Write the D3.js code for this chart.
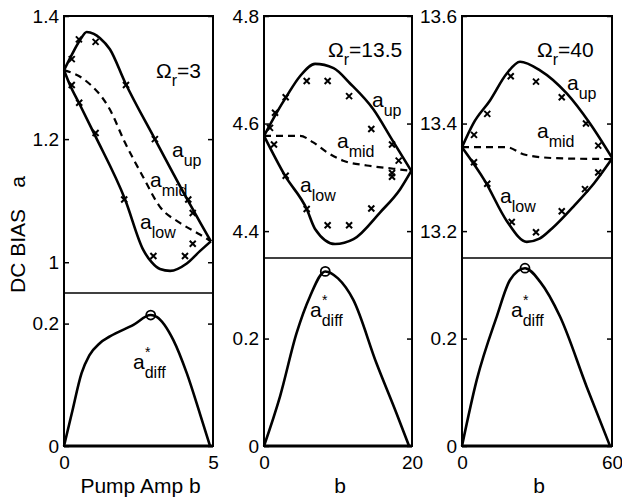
<!DOCTYPE html>
<html>
<head>
<meta charset="utf-8">
<script src="https://cdn.jsdelivr.net/npm/d3@7/dist/d3.min.js"></script>
<style>
  body { margin: 0; background: #fff; }
  svg { display: block; }
</style>
</head>
<body>
<svg id="chart" width="622" height="500"></svg>
<script>
/* ---- data: [b, a] pairs ---- */

// Omega_r = 3
const p1Up = [[0,1.312],[0.26,1.337],[0.54,1.361],[0.76,1.374],[1.0,1.371],[1.21,1.364],[1.54,1.346],[2.05,1.292],[3.05,1.2],[4.16,1.1],[4.6,1.062],[4.93,1.034]];
const p1Low = [[0,1.312],[0.2,1.288],[0.5,1.259],[1.04,1.206],[2.05,1.102],[2.66,1.02],[2.94,1.0],[3.22,0.989],[3.56,0.986],[4.12,0.998],[4.56,1.018],[4.93,1.034]];
const p1Mid = [[0,1.312],[0.7,1.296],[1.54,1.248],[2.05,1.194],[2.65,1.139],[3.22,1.09],[3.89,1.064],[4.56,1.045],[4.93,1.034]];
const p1Cross = [[0.5,1.362],[1.06,1.358],[0.26,1.33],[0.26,1.288],[0.51,1.259],[1.06,1.21],[2.08,1.288],[3.05,1.2],[2.02,1.102],[3.0,1.01],[4.17,1.102],[4.32,1.08],[4.32,1.03],[4.06,1.01]];
const p1Diff = [[0,0],[0.26,0.053],[0.59,0.119],[0.85,0.148],[1.2,0.168],[1.54,0.179],[2.33,0.198],[2.91,0.214],[3.11,0.211],[3.67,0.173],[4.12,0.119],[4.56,0.053],[4.9,0]];
const p1Peak = [2.91, 0.214];

// Omega_r = 13.5
const p2Up = [[0,4.577],[1.7,4.62],[3.07,4.651],[4.86,4.688],[6.9,4.711],[9.4,4.703],[11.6,4.675],[14.8,4.626],[17.3,4.57],[19.9,4.512]];
const p2Low = [[0,4.577],[2.84,4.503],[5.77,4.441],[6.9,4.404],[9.6,4.376],[12.1,4.385],[15.7,4.435],[18.4,4.478],[19.9,4.512]];
const p2Mid = [[0,4.577],[4.86,4.577],[6.66,4.565],[8.47,4.547],[10.7,4.531],[13.9,4.522],[17.5,4.516],[19.9,4.512]];
const p2Cross = [[0.81,4.592],[1.49,4.62],[2.93,4.649],[5.77,4.679],[8.6,4.679],[11.5,4.651],[14.5,4.59],[17.3,4.561],[18.2,4.531],[17.3,4.508],[17.3,4.501],[1.35,4.561],[2.93,4.503],[5.77,4.441],[8.6,4.411],[11.5,4.411],[14.5,4.442]];
const p2Diff = [[0,0],[2.16,0.092],[4.4,0.21],[6.2,0.278],[8.28,0.325],[10,0.312],[12.07,0.272],[15.2,0.154],[17.9,0.061],[19.6,0]];
const p2Peak = [8.28, 0.325];

// Omega_r = 40
const p3Up = [[0,13.356],[4.5,13.4],[11.2,13.443],[17.9,13.493],[23.2,13.515],[31.2,13.499],[41.9,13.456],[51.2,13.4],[59.9,13.337]];
const p3Low = [[0,13.356],[9.2,13.293],[17.9,13.219],[25.9,13.18],[31,13.186],[36,13.205],[45,13.248],[53,13.29],[59.9,13.334]];
const p3Mid = [[0,13.356],[17.9,13.356],[24.5,13.343],[32.5,13.337],[41.9,13.335],[59.9,13.334]];
const p3Cross = [[4.8,13.379],[10.1,13.418],[19.5,13.488],[29.6,13.478],[39.9,13.449],[49.6,13.4],[54.5,13.359],[54.5,13.309],[49.2,13.278],[39.9,13.237],[29.6,13.198],[19.9,13.217],[10.1,13.288],[4.8,13.328]];
const p3Diff = [[0,0],[5.9,0.123],[13.9,0.241],[19.2,0.309],[25.2,0.331],[31.2,0.306],[39.2,0.241],[49.9,0.110],[59.2,0]];
const p3Peak = [25.2, 0.331];

// axis ticks
const xMax = [5, 20, 60];
const upTicks = [[1, 1.2, 1.4], [4.4, 4.6, 4.8], [13.2, 13.4, 13.6]];
const upDomains = [[0.95, 1.4], [4.35, 4.8], [13.15, 13.6]];
const lowTicks = [0, 0.2];
const lowMax = [0.25, 0.35, 0.35];
const omegaLabels = ['3', '13.5', '40'];
const xLabels = ['Pump Amp b', 'b', 'b'];

const FONT = '"Liberation Sans", Arial, Helvetica, sans-serif';
const svg = d3.select('#chart');

// ---- panel layout (pixels) ----
const layout = [
  { left: 64,  right: 213, top: 16, mid: 293, bottom: 446,
    omega: [156, 78], up: [172, 157], amid: [150, 187], low: [140, 229], diff: [133, 369] },
  { left: 264, right: 412, top: 16, mid: 258, bottom: 446,
    omega: [328, 57], up: [372, 107], amid: [337, 148], low: [300, 192], diff: [310, 317] },
  { left: 462, right: 612, top: 16, mid: 258, bottom: 446,
    omega: [537, 57], up: [567, 90], amid: [537, 138], low: [500, 203], diff: [511, 317] }
];

const series = [
  { up: p1Up, low: p1Low, mid: p1Mid, cross: p1Cross, diff: p1Diff, peak: p1Peak },
  { up: p2Up, low: p2Low, mid: p2Mid, cross: p2Cross, diff: p2Diff, peak: p2Peak },
  { up: p3Up, low: p3Low, mid: p3Mid, cross: p3Cross, diff: p3Diff, peak: p3Peak }
];

function subLabel(g, pos, main, sub, size) {
  const t = g.append('text')
    .attr('x', pos[0]).attr('y', pos[1])
    .attr('font-family', FONT).attr('font-size', size || 21).attr('fill', '#000');
  t.append('tspan').text(main);
  t.append('tspan').attr('font-size', 16).attr('dy', 9).text(sub);
  return t;
}

layout.forEach((L, i) => {
  const S = series[i];
  const g = svg.append('g');

  const x = d3.scaleLinear().domain([0, xMax[i]]).range([L.left, L.right]);
  const yU = d3.scaleLinear().domain(upDomains[i]).range([L.mid, L.top]);
  const yL = d3.scaleLinear().domain([0, lowMax[i]]).range([L.bottom, L.mid]);

  const fmt = d => d3.format('~g')(d);

  // ---- axes (MATLAB style, inward ticks) ----
  const styleAxis = sel => {
    sel.select('.domain').remove();
    sel.selectAll('line').attr('stroke', '#000').attr('stroke-width', 1.5);
    sel.selectAll('text').attr('font-family', FONT).attr('font-size', 19).attr('fill', '#000');
  };

  g.append('g').attr('transform', `translate(${L.left},0)`)
    .call(d3.axisLeft(yU).tickValues(upTicks[i]).tickSize(-5).tickPadding(5).tickFormat(fmt))
    .call(styleAxis);
  g.append('g').attr('transform', `translate(${L.right},0)`)
    .call(d3.axisRight(yU).tickValues(upTicks[i]).tickSize(-5).tickFormat(''))
    .call(styleAxis);
  g.append('g').attr('transform', `translate(${L.left},0)`)
    .call(d3.axisLeft(yL).tickValues(lowTicks).tickSize(-5).tickPadding(5).tickFormat(fmt))
    .call(styleAxis);
  g.append('g').attr('transform', `translate(${L.right},0)`)
    .call(d3.axisRight(yL).tickValues(lowTicks).tickSize(-5).tickFormat(''))
    .call(styleAxis);
  g.append('g').attr('transform', `translate(0,${L.bottom})`)
    .call(d3.axisBottom(x).tickValues([0, xMax[i]]).tickSize(0).tickPadding(10).tickFormat(fmt))
    .call(styleAxis);

  // ---- frame ----
  g.append('rect')
    .attr('x', L.left).attr('y', L.top)
    .attr('width', L.right - L.left).attr('height', L.bottom - L.top)
    .attr('fill', 'none').attr('stroke', '#000').attr('stroke-width', 2);
  g.append('line')
    .attr('x1', L.left).attr('x2', L.right).attr('y1', L.bottom).attr('y2', L.bottom)
    .attr('stroke', '#000').attr('stroke-width', 3);
  g.append('line')
    .attr('x1', L.left).attr('x2', L.right).attr('y1', L.mid).attr('y2', L.mid)
    .attr('stroke', '#000').attr('stroke-width', 1.3);

  // ---- upper panel curves ----
  const lineU = d3.line().x(d => x(d[0])).y(d => yU(d[1])).curve(d3.curveMonotoneX);
  const lineL = d3.line().x(d => x(d[0])).y(d => yL(d[1])).curve(d3.curveMonotoneX);

  [S.up, S.low].forEach(arr => {
    g.append('path').datum(arr).attr('d', lineU)
      .attr('fill', 'none').attr('stroke', '#000').attr('stroke-width', 2.6);
  });
  g.append('path').datum(S.mid).attr('d', lineU)
    .attr('fill', 'none').attr('stroke', '#000').attr('stroke-width', 2.2)
    .attr('stroke-dasharray', '7 5');

  g.selectAll('.cross').data(S.cross).join('path')
    .attr('class', 'cross')
    .attr('transform', d => `translate(${x(d[0])},${yU(d[1])})`)
    .attr('d', 'M-3,-3L3,3M-3,3L3,-3')
    .attr('stroke', '#000').attr('stroke-width', 2);

  // ---- lower panel ----
  g.append('path').datum(S.diff).attr('d', lineL)
    .attr('fill', 'none').attr('stroke', '#000').attr('stroke-width', 2.6);
  g.append('circle')
    .attr('cx', x(S.peak[0])).attr('cy', yL(S.peak[1])).attr('r', 4.5)
    .attr('fill', 'none').attr('stroke', '#000').attr('stroke-width', 1.8);

  // ---- annotations ----
  const om = g.append('text')
    .attr('x', L.omega[0]).attr('y', L.omega[1])
    .attr('font-family', FONT).attr('font-size', 21).attr('fill', '#000');
  om.append('tspan').text('Ω');
  om.append('tspan').attr('font-size', 16).attr('dy', 8).text('r');
  om.append('tspan').attr('dy', -8).text('=' + omegaLabels[i]);

  subLabel(g, L.up, 'a', 'up');
  subLabel(g, L.amid, 'a', 'mid');
  subLabel(g, L.low, 'a', 'low');
  subLabel(g, L.diff, 'a', 'diff');
  g.append('text')
    .attr('x', L.diff[0] + 12).attr('y', L.diff[1] - 12)
    .attr('font-family', FONT).attr('font-size', 14).attr('fill', '#000')
    .text('*');

  // x label
  g.append('text')
    .attr('x', (L.left + L.right) / 2 + 2).attr('y', 493)
    .attr('text-anchor', 'middle')
    .attr('font-family', FONT).attr('font-size', 21).attr('fill', '#000')
    .text(xLabels[i]);
});

// y label
svg.append('text')
  .attr('transform', 'translate(25,293) rotate(-90)')
  .attr('font-family', FONT).attr('font-size', 21).attr('fill', '#000')
  .text('DC BIAS');
svg.append('text')
  .attr('transform', 'translate(25,182) rotate(-90)')
  .attr('text-anchor', 'middle')
  .attr('font-family', FONT).attr('font-size', 21).attr('fill', '#000')
  .text('a');
</script>
</body>
</html>
